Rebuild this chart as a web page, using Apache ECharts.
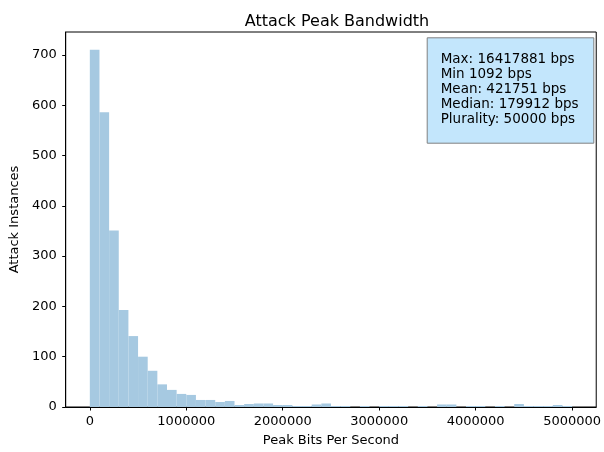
<!DOCTYPE html>
<html>
<head>
<meta charset="utf-8">
<script src="https://cdn.jsdelivr.net/npm/echarts@6/dist/echarts.min.js"></script>
<style>html,body{margin:0;padding:0;background:#fff}#c{width:604px;height:452px}</style>
</head>
<body>
<div id="c"></div>
<script>
const binWidth = 100000;
const counts = [710, 586, 351, 193, 141, 100, 72, 45, 34, 26,
                24, 14, 14, 10, 12, 4, 6, 7, 7, 4,
                4, 2, 2, 5, 7, 2, 2, 0, 2, 0,
                2, 2, 2, 0, 2, 0, 5, 5, 0, 2,
                2, 0, 2, 0, 6, 2, 2, 2, 4, 2];
const xTicks = [0, 1000000, 2000000, 3000000, 4000000, 5000000];
const yTicks = [0, 100, 200, 300, 400, 500, 600, 700];
const statsLines = ['Max: 16417881 bps', 'Min 1092 bps', 'Mean: 421751 bps', 'Median: 179912 bps', 'Plurality: 50000 bps'];
const titleText = 'Attack Peak Bandwidth';
const xName = 'Peak Bits Per Second';
const yName = 'Attack Instances';

const FONT = 'DejaVu Sans';
const histData = counts.map((c, i) => [i * binWidth, (i + 1) * binWidth, c]);

const chart = echarts.init(document.getElementById('c'), null, {renderer: 'canvas'});
chart.setOption({
  animation: false,
  backgroundColor: '#fff',
  title: {
    text: titleText, left: 332, top: 9, textAlign: 'center',
    textStyle: {fontFamily: FONT, fontSize: 16, fontWeight: 'normal', color: '#000'}
  },
  grid: {left: 64.3, right: 2.3, top: 32, bottom: 43.7, show: true, borderColor: '#000', borderWidth: 1, backgroundColor: 'transparent'},
  xAxis: {
    type: 'value', min: -250000, max: 5250000,
    name: xName, nameLocation: 'middle', nameGap: 27,
    nameTextStyle: {fontFamily: FONT, fontSize: 13, color: '#000'},
    axisLine: {show: true, onZero: false, lineStyle: {color: '#000', width: 1}},
    axisTick: {show: true, length: 3.5, lineStyle: {color: '#000'}, customValues: xTicks},
    axisLabel: {fontFamily: FONT, fontSize: 13, color: '#000', margin: 8.5, customValues: xTicks, formatter: v => String(v)},
    splitLine: {show: false}
  },
  yAxis: {
    type: 'value', min: 0, max: 745.5,
    name: yName, nameLocation: 'middle', nameGap: 43, nameRotate: 90,
    nameTextStyle: {fontFamily: FONT, fontSize: 13, color: '#000'},
    axisLine: {show: true, onZero: false, lineStyle: {color: '#000', width: 1}},
    axisTick: {show: true, length: 3.5, lineStyle: {color: '#000'}, customValues: yTicks},
    axisLabel: {fontFamily: FONT, fontSize: 13, color: '#000', margin: 9, customValues: yTicks, formatter: v => String(v)},
    splitLine: {show: false}
  },
  series: [{
    type: 'custom',
    clip: true,
    data: histData,
    encode: {x: [0, 1], y: 2},
    renderItem: function (params, api) {
      const p0 = api.coord([api.value(0), api.value(2)]);
      const p1 = api.coord([api.value(1), 0]);
      return {
        type: 'rect',
        shape: {x: p0[0], y: p0[1], width: p1[0] - p0[0], height: p1[1] - p0[1]},
        style: {fill: '#a6c9e1', stroke: null}
      };
    }
  }],
  graphic: [{
    type: 'rect', left: 426.7, top: 37.3, z: 100,
    shape: {width: 166.6, height: 105.4},
    style: {fill: '#c3e6fc', stroke: '#808080', lineWidth: 1}
  }, {
    type: 'text', left: 440.7, top: 52, z: 101,
    style: {text: statsLines.join('\n'), fontFamily: FONT, fontSize: 13.5, lineHeight: 15, fill: '#000'}
  }]
});
</script>
</body>
</html>
